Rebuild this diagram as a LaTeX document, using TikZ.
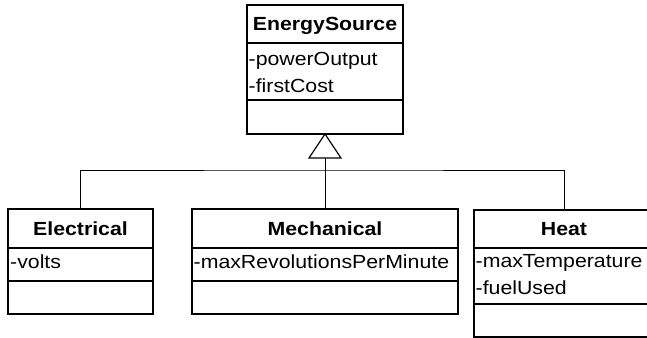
\documentclass[tikz,border=0pt]{standalone}
\usepackage{fontspec}
\setmainfont[FakeStretch=1.12]{Liberation Sans}
\begin{document}
\begin{tikzpicture}[x=1pt,y=-1pt,
  classbox/.style={draw=black,line width=1.2pt,fill=white,inner sep=0pt,outer sep=0pt,anchor=north west,minimum height=#1},
  classbox/.default=105pt,
  titletext/.style={inner sep=0pt,anchor=base,font=\fontsize{19}{23}\selectfont\bfseries},
  attrtext/.style={inner sep=0pt,anchor=base west,font=\fontsize{19}{23}\selectfont},
  divider/.style={line width=1.2pt},
  link/.style={line width=1pt}]
\useasboundingbox (0,0) rectangle (647,337);
\clip (0,0) rectangle (647,337);
\fill[white] (0,0) rectangle (647,337);

% EnergySource
\node[classbox=129pt,minimum width=156pt] (es) at (247,5) {};
\draw[divider] (es.west |- 0,43) -- (es.east |- 0,43);
\draw[divider] (es.west |- 0,100) -- (es.east |- 0,100);
\node[titletext] (estitle) at (325,31) {EnergySource};
\node[attrtext] (esa1) at (248.5,66) {-powerOutput};
\node[attrtext] (esa2) at (248.5,92.7) {-firstCost};

% Electrical
\node[classbox,minimum width=145pt] (elec) at (8,209) {};
\draw[divider] (elec.west |- 0,248) -- (elec.east |- 0,248);
\draw[divider] (elec.west |- 0,281) -- (elec.east |- 0,281);
\node[titletext] (electitle) at (80.5,235) {Electrical};
\node[attrtext] (eleca1) at (10,268) {-volts};

% Mechanical
\node[classbox,minimum width=266pt] (mech) at (192,209) {};
\draw[divider] (mech.west |- 0,248) -- (mech.east |- 0,248);
\draw[divider] (mech.west |- 0,281) -- (mech.east |- 0,281);
\node[titletext] (mechtitle) at (325,235) {Mechanical};
\node[attrtext] (mecha1) at (193.5,268) {-maxRevolutionsPerMinute};

% Heat
\node[classbox=127pt,minimum width=180pt] (heat) at (474,210) {};
\draw[divider] (heat.west |- 0,248) -- (heat.east |- 0,248);
\draw[divider] (heat.west |- 0,304) -- (heat.east |- 0,304);
\node[titletext] (heattitle) at (564,235) {Heat};
\node[attrtext] (heata1) at (475.5,267) {-maxTemperature};
\node[attrtext] (heata2) at (475.5,294) {-fuelUsed};

% Generalization
\coordinate (tribase) at (325,158);
\coordinate (bus) at (325,170);
\draw[line width=1.2pt,fill=white] (es.south) -- (309,158) -- (341,158) -- cycle;
\draw[link] (tribase) -- (mech.north);
\draw[link] (elec.north) |- (bus) -| (heat.north);
\end{tikzpicture}
\end{document}
